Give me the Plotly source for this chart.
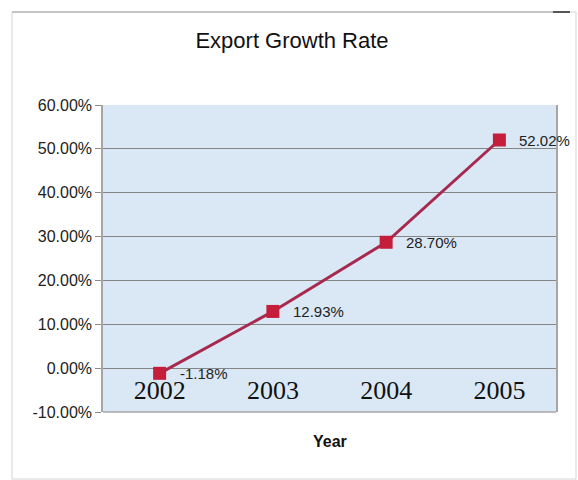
import plotly.graph_objects as go

# Export growth by year
years = ["2002", "2003", "2004", "2005"]
growth_pct = [-1.18, 12.93, 28.70, 52.02]

# y axis ticks in percent
y_ticks_pct = [-10, 0, 10, 20, 30, 40, 50, 60]

W, H = 578, 480
L, R, T, B = 103, 22, 105, 68
plot_w = W - L - R
plot_h = H - T - B


def px_x(px):
    return (px - L) / plot_w


def px_y(py):
    return (H - B - py) / plot_h


xs = list(range(len(years)))
ys = [v / 100 for v in growth_pct]
y_tickvals = [t / 100 for t in y_ticks_pct]
y_ticktext = [f"{t:.2f}%" for t in y_ticks_pct]
y_min, y_max = y_tickvals[0], y_tickvals[-1]

fig = go.Figure()
fig.add_trace(go.Scatter(
    x=xs, y=ys, mode="lines+markers",
    line=dict(color="#A8294E", width=3),
    marker=dict(symbol="square", size=13, color="#C41E3A",
                line=dict(width=0)),
    hoverinfo="skip", showlegend=False, cliponaxis=False,
))

# value labels beside each point
for x, v in zip(xs, growth_pct):
    fig.add_annotation(
        x=x, y=v / 100, xref="x", yref="y", text=f"{v:.2f}%",
        showarrow=False, xanchor="left", yanchor="middle", xshift=18,
        font=dict(family="Liberation Sans, Arial", size=15, color="#222"),
    )

# x axis sits on the zero line
zero_pos = (0 - y_min) / (y_max - y_min)

fig.update_layout(
    width=W, height=H,
    margin=dict(l=L, r=R, t=T, b=B),
    paper_bgcolor="white",
    plot_bgcolor="#DAE8F6",
    title=dict(text="Export Growth Rate", x=px_x(292), xref="paper",
               xanchor="center", y=1 - 40 / H, yanchor="middle",
               font=dict(family="Liberation Sans, Arial", size=22,
                         color="#111")),
    xaxis=dict(
        range=[-0.5, 3.5], tickvals=xs, ticktext=years,
        showgrid=False, zeroline=False, showline=False, ticks="",
        anchor="free", position=zero_pos, ticklabelstandoff=4,
        tickfont=dict(family="Liberation Serif, Times New Roman", size=26,
                      color="#111"),
    ),
    yaxis=dict(
        range=[y_min, y_max], tickvals=y_tickvals, ticktext=y_ticktext,
        showgrid=True, gridcolor="#858585", gridwidth=1,
        zeroline=False, showline=True, linecolor="#a6a6a6", linewidth=1.5,
        mirror=True, ticks="outside", ticklen=6, tickcolor="#8c8c8c",
        tickfont=dict(family="Liberation Sans, Arial", size=16, color="#222"),
    ),
)

# bottom edge of the plot frame (the x axis line is moved to zero)
fig.add_shape(type="line", xref="paper", yref="paper", x0=0, x1=1, y0=0, y1=0,
              line=dict(color="#a6a6a6", width=1.5))

fig.add_annotation(
    text="<b>Year</b>", xref="paper", yref="paper", x=0.5, y=px_y(441),
    showarrow=False, xanchor="center", yanchor="middle",
    font=dict(family="Liberation Sans, Arial", size=16, color="#111"),
)

# outer chart border
fig.add_shape(type="rect", xref="paper", yref="paper",
              x0=px_x(12), x1=px_x(576), y0=px_y(479), y1=px_y(12),
              line=dict(color="#d4d4d4", width=1), layer="below")
fig.add_shape(type="line", xref="paper", yref="paper",
              x0=px_x(12), x1=px_x(570), y0=px_y(12), y1=px_y(12),
              line=dict(color="#b8b8b8", width=1.5))
fig.add_shape(type="line", xref="paper", yref="paper",
              x0=px_x(553), x1=px_x(570), y0=px_y(12), y1=px_y(12),
              line=dict(color="#555", width=2))

fig.write_html("out.html")
